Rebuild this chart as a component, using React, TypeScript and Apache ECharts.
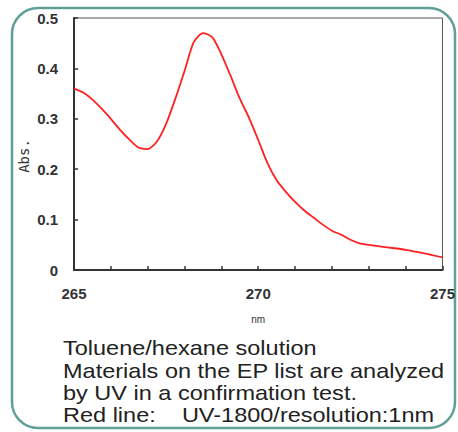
import React, { useEffect, useRef } from "react";
import * as echarts from "echarts";

const wavelengths = [265, 265.25, 265.5, 265.75, 266, 266.25, 266.5, 266.75, 267, 267.25, 267.5, 267.75, 268, 268.25, 268.5, 268.75, 269, 269.25, 269.5, 269.75, 270, 270.25, 270.5, 270.75, 271, 271.25, 271.5, 271.75, 272, 272.25, 272.5, 272.75, 273, 273.5, 274, 274.5, 275];
const absorbance = [0.36, 0.352, 0.338, 0.32, 0.3, 0.278, 0.259, 0.243, 0.24, 0.255, 0.29, 0.34, 0.395, 0.452, 0.47, 0.462, 0.428, 0.385, 0.34, 0.302, 0.258, 0.212, 0.178, 0.155, 0.135, 0.118, 0.104, 0.09, 0.078, 0.07, 0.06, 0.053, 0.05, 0.045, 0.04, 0.033, 0.025];
const xLabels = [265, 270, 275];
const yAxisTitle = "Abs.";
const captionLines = [
  "Toluene/hexane solution",
  "Materials on the EP list are analyzed",
  "by UV in a confirmation test.",
  "Red line:    UV-1800/resolution:1nm",
];

export default function App() {
  const ref = useRef<HTMLDivElement>(null);
  useEffect(() => {
    if (!ref.current) return;
    const chart = echarts.init(ref.current, null, { renderer: "svg" });
    const axisLine = { show: true, lineStyle: { color: "#333", width: 2 } };
    const tick = { show: true, inside: true, length: 4, lineStyle: { color: "#333", width: 1.5 } };
    chart.setOption({
      animation: false,
      backgroundColor: "#fff",
      grid: { left: 74, right: 13, top: 18, bottom: 162, show: true, borderColor: "#555", borderWidth: 1 },
      xAxis: {
        type: "value",
        min: 265,
        max: 275,
        interval: 1,
        axisLine,
        axisTick: tick,
        splitLine: { show: false },
        axisLabel: {
          color: "#333",
          fontFamily: "Liberation Sans",
          fontWeight: "bold",
          fontSize: 15,
          margin: 16,
          formatter: (v: number) => (xLabels.includes(v) ? String(v) : ""),
        },
        name: "nm",
        nameLocation: "middle",
        nameGap: 44,
        nameTextStyle: { color: "#333", fontSize: 10, fontFamily: "Liberation Sans" },
      },
      yAxis: {
        type: "value",
        min: 0,
        max: 0.5,
        interval: 0.1,
        axisLine,
        axisTick: tick,
        splitLine: { show: false },
        axisLabel: {
          color: "#333",
          fontFamily: "Liberation Sans",
          fontWeight: "bold",
          fontSize: 15,
          margin: 16,
          formatter: (v: number) => (v === 0 ? "0" : v.toFixed(1)),
        },
      },
      series: [
        {
          type: "line",
          data: wavelengths.map((w, i) => [w, absorbance[i]]),
          showSymbol: false,
          smooth: 0.25,
          lineStyle: { color: "#ff2020", width: 1.8 },
        },
      ],
      graphic: [
        {
          type: "rect",
          shape: { x: 12, y: 8, width: 443, height: 420, r: 26 },
          style: { fill: "none", stroke: "#5e9f96", lineWidth: 2.5 },
          silent: true,
        },
        {
          type: "text",
          x: 24,
          y: 156,
          rotation: Math.PI / 2,
          style: {
            text: yAxisTitle,
            fontSize: 14,
            fontFamily: "DejaVu Sans Mono",
            fill: "#333",
            align: "center",
            verticalAlign: "middle",
          },
        },
        {
          type: "text",
          x: 63,
          y: 337,
          scaleX: 1.12,
          style: {
            text: captionLines.join("\n"),
            fontSize: 21,
            lineHeight: 22.4,
            fontFamily: "Liberation Sans",
            fill: "#222",
            verticalAlign: "top",
          },
        },
      ],
    });
    return () => chart.dispose();
  }, []);
  return <div ref={ref} style={{ position: "fixed", left: 0, top: 0, width: 458, height: 432 }} />;
}
